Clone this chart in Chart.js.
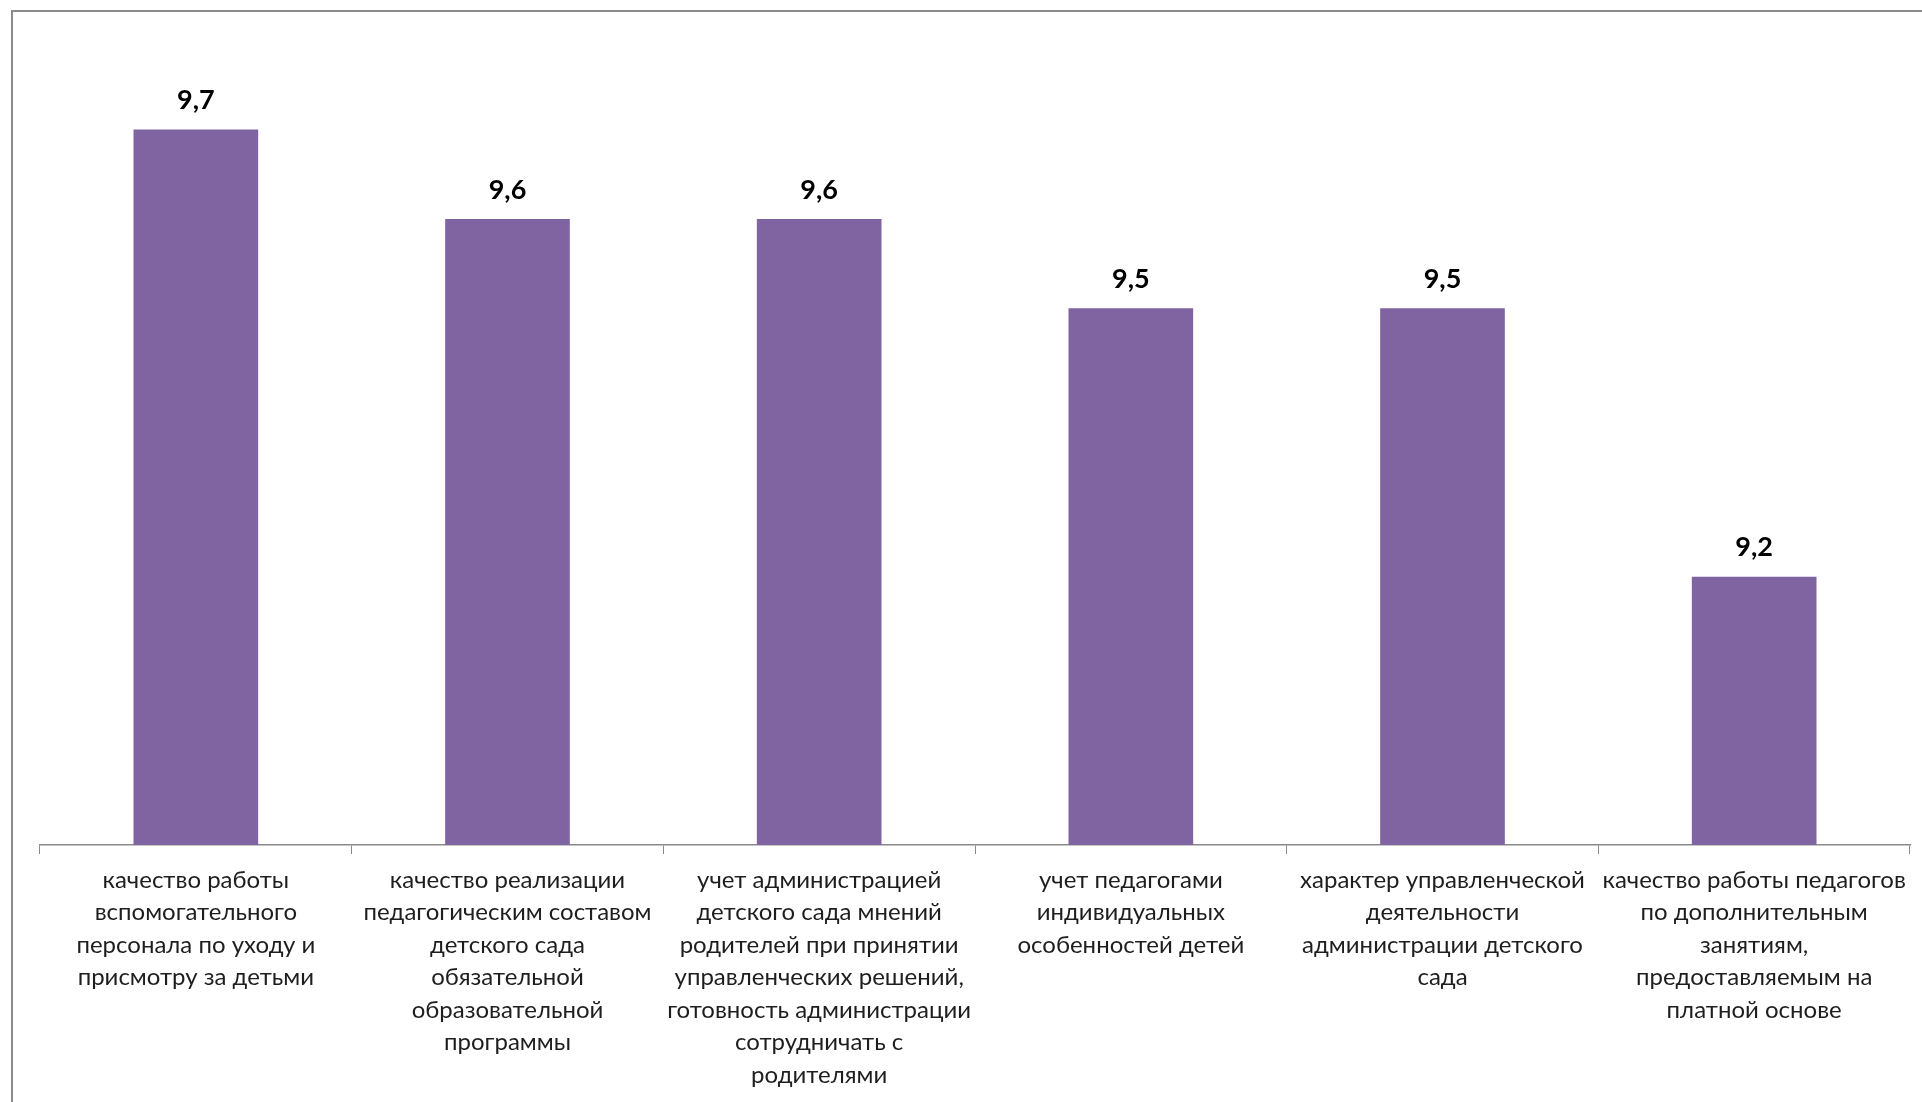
<!DOCTYPE html>
<html lang="ru">
<head>
<meta charset="utf-8">
<title>Оценка</title>
<script src="https://cdn.jsdelivr.net/npm/chart.js@4.4.1/dist/chart.umd.min.js"></script>
<style>
    html, body { margin: 0; padding: 0; background: #fff; overflow: hidden; }
    #wrap { position: relative; width: 1922px; height: 1102px; }
    #frame {
        position: absolute; left: 11px; top: 10px; width: 2000px; height: 1200px;
        border-left: 2px solid #8a8a8a; border-top: 2px solid #8a8a8a;
        pointer-events: none;
    }
    canvas { position: absolute; left: 0; top: 0; }
</style>
</head>
<body>
<div id="wrap">
    <canvas id="chart" width="1922" height="1102"></canvas>
    <div id="frame"></div>
</div>
<script>
// категории (уже разбиты на строки, как в оригинале)
const categories = [
    ['качество работы', 'вспомогательного', 'персонала по уходу и', 'присмотру за детьми'],
    ['качество реализации', 'педагогическим составом', 'детского сада', 'обязательной', 'образовательной', 'программы'],
    ['учет администрацией', 'детского сада мнений', 'родителей при принятии', 'управленческих решений,', 'готовность администрации', 'сотрудничать с', 'родителями'],
    ['учет педагогами', 'индивидуальных', 'особенностей детей'],
    ['характер управленческой', 'деятельности', 'администрации детского', 'сада'],
    ['качество работы педагогов', 'по дополнительным', 'занятиям,', 'предоставляемым на', 'платной основе']
];
const scores = [9.7, 9.6, 9.6, 9.5, 9.5, 9.2];
const yMin = 8.9;
const yMax = 9.8;

const barColor = '#8064a2';
const fontFamily = 'Lato, "Open Sans", sans-serif';

// подписи значений над столбцами
const valueLabels = {
    id: 'valueLabels',
    afterDatasetsDraw(chart) {
        const ctx = chart.ctx;
        const meta = chart.getDatasetMeta(0);
        ctx.save();
        ctx.font = 'bold 27px ' + fontFamily;
        ctx.fillStyle = '#000';
        ctx.textAlign = 'center';
        ctx.textBaseline = 'middle';
        meta.data.forEach((bar, i) => {
            const txt = scores[i].toFixed(1).replace('.', ',');
            ctx.fillText(txt, bar.x, bar.y - 29);
        });
        ctx.restore();
    }
};

const ctx = document.getElementById('chart').getContext('2d');
new Chart(ctx, {
    type: 'bar',
    data: {
        labels: categories,
        datasets: [{
            data: scores,
            backgroundColor: barColor,
            borderWidth: 0,
            barPercentage: 0.4,
            categoryPercentage: 1.0
        }]
    },
    options: {
        responsive: false,
        animation: false,
        devicePixelRatio: 1,
        layout: {
            padding: { top: 40, left: 40, right: 12, bottom: 0 }
        },
        plugins: {
            legend: { display: false },
            tooltip: { enabled: false }
        },
        scales: {
            y: {
                display: false,
                min: yMin,
                max: yMax
            },
            x: {
                afterFit(scale) { scale.height = 257; },
                border: { display: true, color: '#8a8a8a', width: 1.5 },
                grid: {
                    drawOnChartArea: false,
                    drawTicks: true,
                    tickLength: 9,
                    color: '#8a8a8a',
                    offset: true
                },
                ticks: {
                    maxRotation: 0,
                    autoSkip: false,
                    padding: 10,
                    color: '#1e1e1e',
                    font: { family: fontFamily, size: 24, lineHeight: '32.5px' }
                }
            }
        }
    },
    plugins: [valueLabels]
});
</script>
</body>
</html>
